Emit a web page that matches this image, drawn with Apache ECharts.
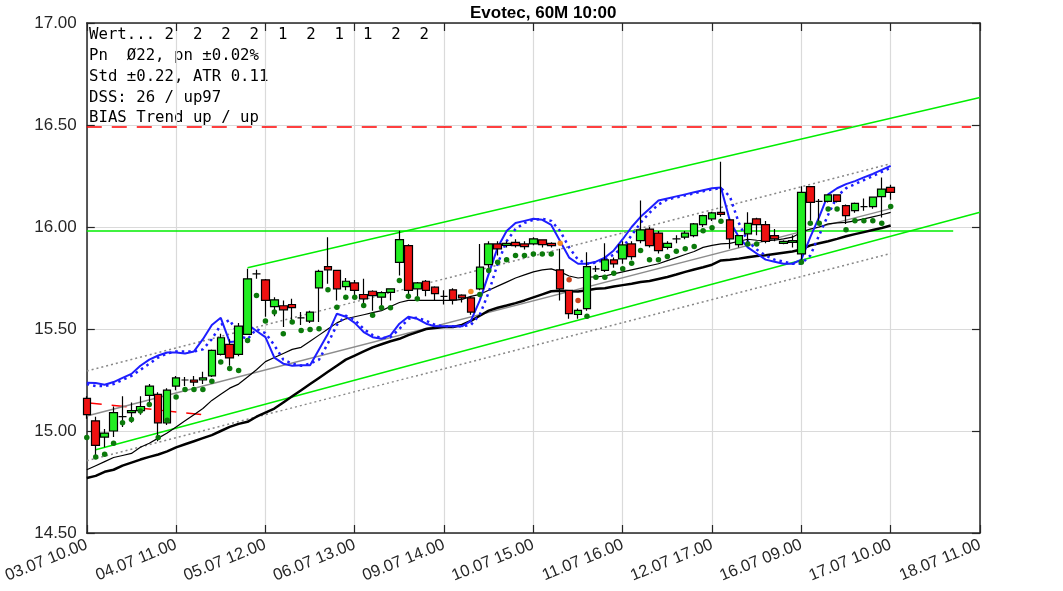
<!DOCTYPE html>
<html><head><meta charset="utf-8">
<script src="https://cdn.jsdelivr.net/npm/echarts@6/dist/echarts.min.js"></script>
<style>html,body{margin:0;padding:0;background:#fff}#c{width:1063px;height:591px}</style>
</head><body><div id="c"></div>
<script>
// ---- data ----
const tradingDays = ['03.07','04.07','05.07','06.07','09.07','10.07','11.07','12.07','13.07','16.07','17.07','18.07'];
const tradingHours = [9,10,11,12,13,14,15,16,17];
const firstHour = 10;
const categoryCount = 101;
const tickLabels = ['03.07 10.00','04.07 11.00','05.07 12.00','06.07 13.00','09.07 14.00','10.07 15.00','11.07 16.00','12.07 17.00','16.07 09.00','17.07 10.00','18.07 11.00'];

// [open, close, low, high]
const candles = [
[15.16,15.08,15.06,15.17],[15.05,14.93,14.88,15.07],[14.97,14.99,14.92,15.01],[15.00,15.09,14.97,15.12],
[15.07,15.07,15.02,15.17],[15.09,15.10,15.04,15.14],[15.10,15.12,15.08,15.17],[15.175,15.22,15.14,15.23],
[15.18,15.04,14.95,15.19],[15.04,15.20,15.03,15.21],[15.22,15.26,15.20,15.27],[15.25,15.25,15.22,15.265],
[15.25,15.24,15.22,15.27],[15.25,15.26,15.23,15.29],[15.27,15.395,15.265,15.40],[15.376,15.457,15.37,15.477],
[15.425,15.358,15.32,15.45],[15.376,15.514,15.366,15.53],[15.474,15.746,15.47,15.795],[15.77,15.77,15.746,15.79],
[15.741,15.64,15.56,15.745],[15.61,15.643,15.562,15.656],[15.614,15.594,15.51,15.64],[15.62,15.605,15.54,15.648],
[15.555,15.555,15.52,15.583],[15.539,15.583,15.53,15.59],[15.702,15.782,15.534,15.79],[15.806,15.79,15.722,15.95],
[15.787,15.697,15.64,15.79],[15.708,15.734,15.69,15.75],[15.726,15.689,15.66,15.74],[15.669,15.648,15.616,15.746],
[15.685,15.664,15.59,15.69],[15.656,15.678,15.60,15.685],[15.68,15.697,15.64,15.70],[15.827,15.938,15.762,15.982],
[15.909,15.689,15.65,15.915],[15.697,15.726,15.66,15.73],[15.734,15.689,15.66,15.74],[15.705,15.673,15.64,15.71],
[15.66,15.66,15.62,15.69],[15.692,15.643,15.62,15.70],[15.666,15.653,15.63,15.67],[15.653,15.583,15.57,15.66],
[15.697,15.803,15.69,15.917],[15.816,15.917,15.80,15.93],[15.917,15.893,15.86,15.93],[15.91,15.92,15.90,15.93],
[15.925,15.909,15.90,15.94],[15.917,15.904,15.89,15.93],[15.917,15.942,15.91,15.95],[15.937,15.914,15.90,15.94],
[15.92,15.909,15.90,15.925],[15.79,15.697,15.64,15.893],[15.689,15.575,15.55,15.69],[15.571,15.591,15.55,15.60],
[15.60,15.806,15.59,15.876],[15.795,15.795,15.78,15.81],[15.787,15.839,15.78,15.92],[15.839,15.819,15.80,15.85],
[15.844,15.912,15.82,15.93],[15.917,15.855,15.84,15.93],[15.933,15.986,15.92,16.13],[15.99,15.909,15.90,16.00],
[15.97,15.884,15.87,15.98],[15.90,15.92,15.89,15.93],[15.942,15.942,15.92,15.96],[15.95,15.97,15.94,15.98],
[15.958,16.015,15.95,16.02],[16.012,16.056,16.00,16.06],[16.04,16.069,16.03,16.075],[16.072,16.062,16.05,16.32],
[16.035,15.942,15.893,16.04],[15.914,15.958,15.90,15.96],[15.966,16.018,15.917,16.072],[16.04,16.012,15.96,16.045],
[16.012,15.93,15.92,16.03],[15.958,15.942,15.93,15.99],[15.92,15.93,15.915,15.935],[15.925,15.933,15.90,15.96],
[15.868,16.17,15.827,16.20],[16.198,16.121,16.031,16.20],[16.126,16.126,16.023,16.137],[16.126,16.157,16.12,16.16],
[16.157,16.126,16.12,16.16],[16.105,16.056,16.015,16.11],[16.08,16.116,16.07,16.12],[16.10,16.10,16.08,16.14],
[16.10,16.146,16.09,16.15],[16.149,16.186,16.047,16.243],[16.194,16.17,16.133,16.207]
];

const maShort = [14.81,14.83,14.85,14.87,14.88,14.89,14.92,14.94,14.965,14.99,15.02,15.05,15.08,15.11,15.15,15.18,15.21,15.23,15.265,15.30,
15.34,15.36,15.38,15.40,15.41,15.44,15.47,15.50,15.53,15.55,15.56,15.57,15.58,15.59,15.61,15.63,15.64,15.64,15.64,15.64,
15.64,15.64,15.645,15.66,15.67,15.69,15.71,15.73,15.75,15.765,15.78,15.79,15.795,15.78,15.76,15.75,15.755,15.755,15.76,15.77,
15.78,15.79,15.80,15.81,15.82,15.835,15.85,15.865,15.88,15.90,15.91,15.917,15.92,15.93,15.94,15.935,15.933,15.935,15.942,15.95,
15.974,15.99,16.00,16.015,16.02,16.023,16.03,16.04,16.05,16.06,16.072];

const maLong = [14.77,14.78,14.80,14.81,14.83,14.845,14.86,14.873,14.885,14.90,14.92,14.935,14.95,14.965,14.98,15.00,15.02,15.035,15.045,15.07,
15.09,15.11,15.14,15.17,15.20,15.23,15.26,15.29,15.32,15.35,15.37,15.39,15.41,15.425,15.44,15.452,15.47,15.485,15.50,15.505,
15.51,15.51,15.52,15.54,15.565,15.59,15.604,15.615,15.627,15.64,15.655,15.67,15.685,15.688,15.685,15.684,15.69,15.697,15.70,15.708,
15.715,15.722,15.73,15.735,15.745,15.755,15.767,15.78,15.792,15.803,15.815,15.836,15.84,15.845,15.852,15.858,15.862,15.868,15.874,15.88,
15.89,15.91,15.92,15.93,15.942,15.955,15.965,15.975,15.985,15.995,16.007];

const blueSolid = [15.237,15.235,15.227,15.24,15.26,15.28,15.32,15.35,15.37,15.385,15.385,15.38,15.39,15.45,15.52,15.555,15.436,15.44,15.523,15.49,
15.46,15.36,15.33,15.32,15.322,15.322,15.40,15.477,15.575,15.56,15.53,15.485,15.46,15.452,15.469,15.526,15.56,15.55,15.526,15.513,
15.513,15.513,15.513,15.54,15.64,15.77,15.90,15.98,16.02,16.03,16.04,16.035,16.01,15.93,15.85,15.82,15.82,15.83,15.85,15.885,
15.94,16.00,16.05,16.09,16.13,16.14,16.15,16.16,16.17,16.18,16.19,16.194,16.03,15.95,15.90,15.87,15.84,15.83,15.82,15.82,
15.84,15.95,16.05,16.16,16.19,16.21,16.225,16.243,16.26,16.28,16.30];

const blueDotted = [15.23,15.22,15.22,15.23,15.25,15.27,15.30,15.33,15.36,15.38,15.39,15.39,15.39,15.40,15.45,15.52,15.545,15.47,15.45,15.50,
15.48,15.42,15.35,15.33,15.32,15.33,15.35,15.43,15.52,15.565,15.545,15.50,15.47,15.455,15.46,15.50,15.55,15.555,15.54,15.52,
15.513,15.513,15.513,15.52,15.57,15.68,15.82,15.93,15.99,16.02,16.035,16.04,16.03,15.98,15.90,15.84,15.82,15.825,15.84,15.865,
15.90,15.96,16.02,16.07,16.11,16.135,16.145,16.155,16.165,16.175,16.185,16.19,16.15,16.02,15.93,15.89,15.86,15.84,15.83,15.82,
15.82,15.86,15.96,16.06,16.15,16.19,16.21,16.23,16.25,16.27,16.29];

const stopDots = [14.968,14.873,14.886,14.94,15.04,15.056,15.098,15.13,14.968,15.053,15.167,15.203,15.203,15.203,15.244,15.338,15.306,15.297,15.444,15.664,
15.539,15.583,15.477,15.534,15.493,15.498,15.501,15.692,15.607,15.656,15.656,15.615,15.567,15.604,15.604,15.738,15.66,15.648,null,null,
null,null,null,null,15.669,15.787,15.827,15.839,15.86,15.86,15.868,15.868,15.868,null,null,null,15.562,15.754,15.754,15.773,
15.795,15.822,15.885,15.839,15.839,15.855,15.881,15.893,15.904,15.982,15.996,16.028,null,null,15.917,15.917,null,null,null,null,
15.827,16.018,16.018,16.088,16.088,15.987,16.031,16.031,16.031,16.018,16.10];
const orangeDots = [[43,15.684],[53,15.92]];
const redDots = [[54,15.741],[55,15.64]];

const regression = [[0,15.074],[90,16.09]];
const bandUpper = [[0,15.294],[90,16.31]];
const bandLower = [[0,14.854],[90,15.87]];
const channelUpper = [[18,15.80],[100,16.635]];
const channelLower = [[1,14.908],[100,16.072]];
const greenLevel = [[0,15.98],[97,15.98]];
const redLevel = [[0,16.49],[99,16.49]];
const redTrend = [[0,15.139],[13,15.08]];

const infoLines = ['Wert... 2  2  2  2  1  2  1  1  2  2','Pn  Ø22, pn ±0.02%','Std ±0.22, ATR 0.11','DSS: 26 / up97','BIAS Trend up / up'];
const titleText = 'Evotec, 60M 10:00';

// ---- categories ----
const categories = [];
(function(){
  let started = false;
  for (const d of tradingDays) for (const h of tradingHours) {
    if (!started && d === tradingDays[0] && h === firstHour) started = true;
    if (started && categories.length < categoryCount) categories.push(d + ' ' + (h < 10 ? '0' + h : h) + '.00');
  }
})();

const chart = echarts.init(document.getElementById('c'), null, {renderer:'canvas'});
const axisColor = '#262626';
const gridColor = '#dadada';
const lineSeries = (data, color, width, type, z) => ({
  type:'line', data, symbol:'none', silent:true, z: z||2,
  lineStyle:{color, width, type: type||'solid'}, animation:false
});

chart.setOption({
  animation:false,
  title:{text:titleText, left:465, top:0, textStyle:{fontFamily:'Liberation Sans', fontSize:17, fontWeight:'bold', color:'#000'}},
  grid:{left:85, right:83, top:23, bottom:58, containLabel:false},
  xAxis:[{
    type:'category', data:categories, boundaryGap:false,
    axisLine:{show:true, onZero:false, lineStyle:{color:axisColor, width:1.5}},
    axisTick:{show:true, inside:true, length:8, interval:9, lineStyle:{color:axisColor, width:1.2}},
    axisLabel:{interval:9, rotate:22, fontFamily:'Liberation Sans', fontSize:16.5, color:'#262626', margin:11,
      formatter:(v,i)=> tickLabels.includes(v) ? v : ''},
    splitLine:{show:true, interval:9, lineStyle:{color:gridColor, width:1.2}}
  },{
    type:'category', data:categories, boundaryGap:false, position:'top',
    axisLine:{show:true, onZero:false, lineStyle:{color:axisColor, width:1.5}},
    axisTick:{show:true, inside:true, length:8, interval:9, lineStyle:{color:axisColor, width:1.2}},
    axisLabel:{show:false}, splitLine:{show:false}
  }],
  yAxis:[{
    type:'value', min:14.5, max:17, interval:0.5,
    axisLine:{show:true, lineStyle:{color:axisColor, width:1.5}},
    axisTick:{show:true, inside:true, length:8, lineStyle:{color:axisColor, width:1.2}},
    axisLabel:{formatter:v=>v.toFixed(2), fontFamily:'Liberation Sans', fontSize:17, color:'#262626', margin:10},
    splitLine:{show:true, lineStyle:{color:gridColor, width:1.2}}
  },{
    type:'value', min:14.5, max:17, interval:0.5, position:'right',
    axisLine:{show:true, lineStyle:{color:axisColor, width:1.5}},
    axisTick:{show:true, inside:true, length:8, lineStyle:{color:axisColor, width:1.2}},
    axisLabel:{show:false}, splitLine:{show:false}
  }],
  graphic:[{
    type:'text', left:89, top:25, silent:true,
    style:{text:infoLines.join('\n'), font:'15.7px "DejaVu Sans Mono"', lineHeight:20.7, fill:'#000'}
  }],
  series:[
    lineSeries(redLevel, '#ff0000', 1.5, [15,10], 1),
    lineSeries(greenLevel, '#00ee00', 1.5, 'solid', 1),
    lineSeries(channelUpper, '#00ee00', 1.5, 'solid', 1),
    lineSeries(channelLower, '#00ee00', 1.5, 'solid', 1),
    lineSeries(redTrend, '#ff0000', 1.5, [15,10], 1),
    lineSeries(bandUpper, '#888888', 1.5, [2,3], 1),
    lineSeries(bandLower, '#888888', 1.5, [2,3], 1),
    lineSeries(regression, '#8c8c8c', 1.5, 'solid', 1),
    lineSeries(maLong, '#000000', 2.5, 'solid', 2),
    lineSeries(maShort, '#000000', 1.2, 'solid', 2),
    lineSeries(blueDotted, '#1e1eff', 2.5, [2.5,4], 3),
    lineSeries(blueSolid, '#1e1eff', 2, 'solid', 3),
    {
      type:'candlestick', data:candles, barWidth:8, z:5, silent:true,
      itemStyle:{color:'#22ee22', color0:'#ee1111', borderColor:'#000', borderColor0:'#000', borderWidth:1.2}
    },
    {type:'scatter', data:stopDots, symbolSize:5.5, z:6, silent:true, itemStyle:{color:'#0b7a0b', opacity:1}},
    {type:'scatter', data:orangeDots, symbolSize:5.5, z:6, silent:true, itemStyle:{color:'#f28c28', opacity:1}},
    {type:'scatter', data:redDots, symbolSize:5.5, z:6, silent:true, itemStyle:{color:'#c8401c', opacity:1}}
  ]
});
</script></body></html>
